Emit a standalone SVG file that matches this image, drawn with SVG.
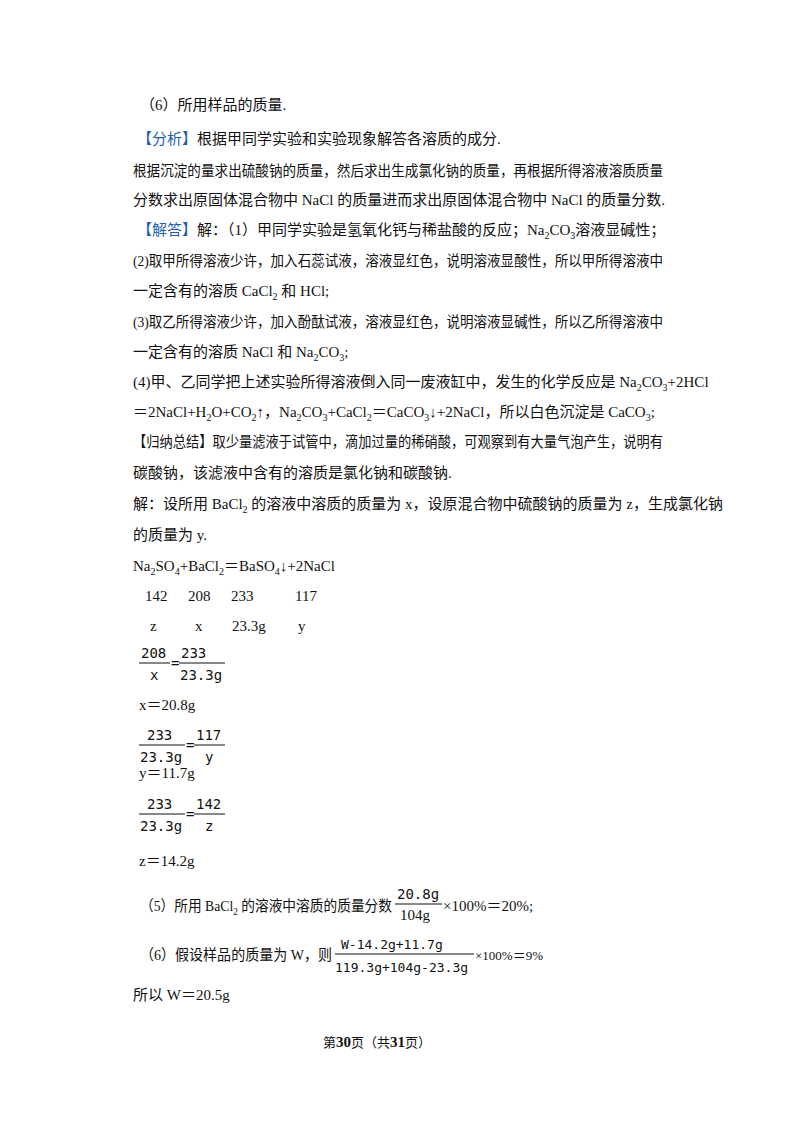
<svg xmlns="http://www.w3.org/2000/svg" width="800" height="1132" viewBox="0 0 800 1132">
<style>
text{font-family:"Liberation Serif","Noto Sans CJK SC",serif;font-size:15px;fill:#111}
.b{fill:#1f5fb0}
.m{font-family:"DejaVu Sans Mono","Liberation Mono",monospace;font-size:14px}
.s{font-size:10px}
line{stroke:#111;stroke-width:1}
</style>
<rect width="800" height="1132" fill="#fff"/>
<text x="140" y="110">（6）所用样品的质量.</text>
<text x="137" y="144"><tspan class="b">【分析】</tspan>根据甲同学实验和实验现象解答各溶质的成分.</text>
<text x="133" y="176" textLength="530" lengthAdjust="spacingAndGlyphs">根据沉淀的量求出硫酸钠的质量，然后求出生成氯化钠的质量，再根据所得溶液溶质质量</text>
<text x="133" y="205">分数求出原固体混合物中 NaCl 的质量进而求出原固体混合物中 NaCl 的质量分数.</text>
<text x="137" y="235"><tspan class="b">【解答】</tspan>解：（1）甲同学实验是氢氧化钙与稀盐酸的反应；Na<tspan class="s" dy="4">2</tspan><tspan dy="-4">CO</tspan><tspan class="s" dy="4">3</tspan><tspan dy="-4">溶液显碱性；</tspan></text>
<text x="133" y="266" textLength="530" lengthAdjust="spacingAndGlyphs">(2)取甲所得溶液少许，加入石蕊试液，溶液显红色，说明溶液显酸性，所以甲所得溶液中</text>
<text x="133" y="296">一定含有的溶质 CaCl<tspan class="s" dy="4">2</tspan><tspan dy="-4"> 和 HCl;</tspan></text>
<text x="133" y="327" textLength="530" lengthAdjust="spacingAndGlyphs">(3)取乙所得溶液少许，加入酚酞试液，溶液显红色，说明溶液显碱性，所以乙所得溶液中</text>
<text x="133" y="357">一定含有的溶质 NaCl 和 Na<tspan class="s" dy="4">2</tspan><tspan dy="-4">CO</tspan><tspan class="s" dy="4">3</tspan><tspan dy="-4">;</tspan></text>
<text x="133" y="387">(4)甲、乙同学把上述实验所得溶液倒入同一废液缸中，发生的化学反应是 Na<tspan class="s" dy="4">2</tspan><tspan dy="-4">CO</tspan><tspan class="s" dy="4">3</tspan><tspan dy="-4">+2HCl</tspan></text>
<text x="133" y="417">＝2NaCl+H<tspan class="s" dy="4">2</tspan><tspan dy="-4">O+CO</tspan><tspan class="s" dy="4">2</tspan><tspan dy="-4">↑，Na</tspan><tspan class="s" dy="4">2</tspan><tspan dy="-4">CO</tspan><tspan class="s" dy="4">3</tspan><tspan dy="-4">+CaCl</tspan><tspan class="s" dy="4">2</tspan><tspan dy="-4">＝CaCO</tspan><tspan class="s" dy="4">3</tspan><tspan dy="-4">↓+2NaCl，所以白色沉淀是 CaCO</tspan><tspan class="s" dy="4">3</tspan><tspan dy="-4">;</tspan></text>
<text x="133" y="447" textLength="530" lengthAdjust="spacingAndGlyphs">【归纳总结】取少量滤液于试管中，滴加过量的稀硝酸，可观察到有大量气泡产生，说明有</text>
<text x="133" y="478">碳酸钠，该滤液中含有的溶质是氯化钠和碳酸钠.</text>
<text x="133" y="509">解：设所用 BaCl<tspan class="s" dy="4">2</tspan><tspan dy="-4"> 的溶液中溶质的质量为 x，设原混合物中硫酸钠的质量为 z，生成氯化钠</tspan></text>
<text x="133" y="540">的质量为 y.</text>
<text x="133" y="571">Na<tspan class="s" dy="4">2</tspan><tspan dy="-4">SO</tspan><tspan class="s" dy="4">4</tspan><tspan dy="-4">+BaCl</tspan><tspan class="s" dy="4">2</tspan><tspan dy="-4">＝BaSO</tspan><tspan class="s" dy="4">4</tspan><tspan dy="-4">↓+2NaCl</tspan></text>
<text x="145" y="601">142</text><text x="188" y="601">208</text><text x="231" y="601">233</text><text x="295" y="601">117</text>
<text x="150" y="631">z</text><text x="195" y="631">x</text><text x="232" y="631">23.3g</text><text x="298" y="631">y</text>
<text class="m" x="141" y="658">208</text><line x1="139" y1="663" x2="170" y2="663"/><text class="m" x="150" y="680">x</text>
<text class="m" x="171" y="668">=</text>
<text class="m" x="181" y="658">233</text><line x1="179" y1="663" x2="225" y2="663"/><text class="m" x="180" y="680">23.3g</text>
<text x="139" y="710">x＝20.8g</text>
<text class="m" x="147" y="740">233</text><line x1="139" y1="745" x2="185" y2="745"/><text class="m" x="140" y="762">23.3g</text>
<text class="m" x="186" y="750">=</text>
<text class="m" x="196" y="740">117</text><line x1="194" y1="745" x2="225" y2="745"/><text class="m" x="205" y="762">y</text>
<text x="139" y="778">y＝11.7g</text>
<text class="m" x="147" y="809">233</text><line x1="139" y1="814" x2="185" y2="814"/><text class="m" x="140" y="831">23.3g</text>
<text class="m" x="186" y="819">=</text>
<text class="m" x="196" y="809">142</text><line x1="194" y1="814" x2="225" y2="814"/><text class="m" x="205" y="831">z</text>
<text x="139" y="866">z＝14.2g</text>
<text x="140" y="911" textLength="252" lengthAdjust="spacingAndGlyphs">（5）所用 BaCl<tspan class="s" dy="4">2</tspan><tspan dy="-4"> 的溶液中溶质的质量分数</tspan></text>
<text class="m" x="397" y="899">20.8g</text><line x1="395" y1="904" x2="442" y2="904"/><text x="400" y="920">104g</text>
<text x="443" y="911">×100%＝20%;</text>
<text x="140" y="960" textLength="192" lengthAdjust="spacingAndGlyphs">（6）假设样品的质量为 W，则</text>
<text class="m" x="341" y="949" style="font-size:13px">W-14.2g+11.7g</text><line x1="335" y1="954" x2="474" y2="954"/><text class="m" x="335" y="972" style="font-size:13px">119.3g+104g-23.3g</text>
<text x="475" y="960" style="font-size:13px">×100%＝9%</text>
<text x="133" y="1000">所以 W＝20.5g</text>
<text x="323" y="1047" style="font-size:13px">第<tspan style="font-weight:bold;font-size:15px">30</tspan>页（共<tspan style="font-weight:bold;font-size:15px">31</tspan>页）</text>
</svg>
